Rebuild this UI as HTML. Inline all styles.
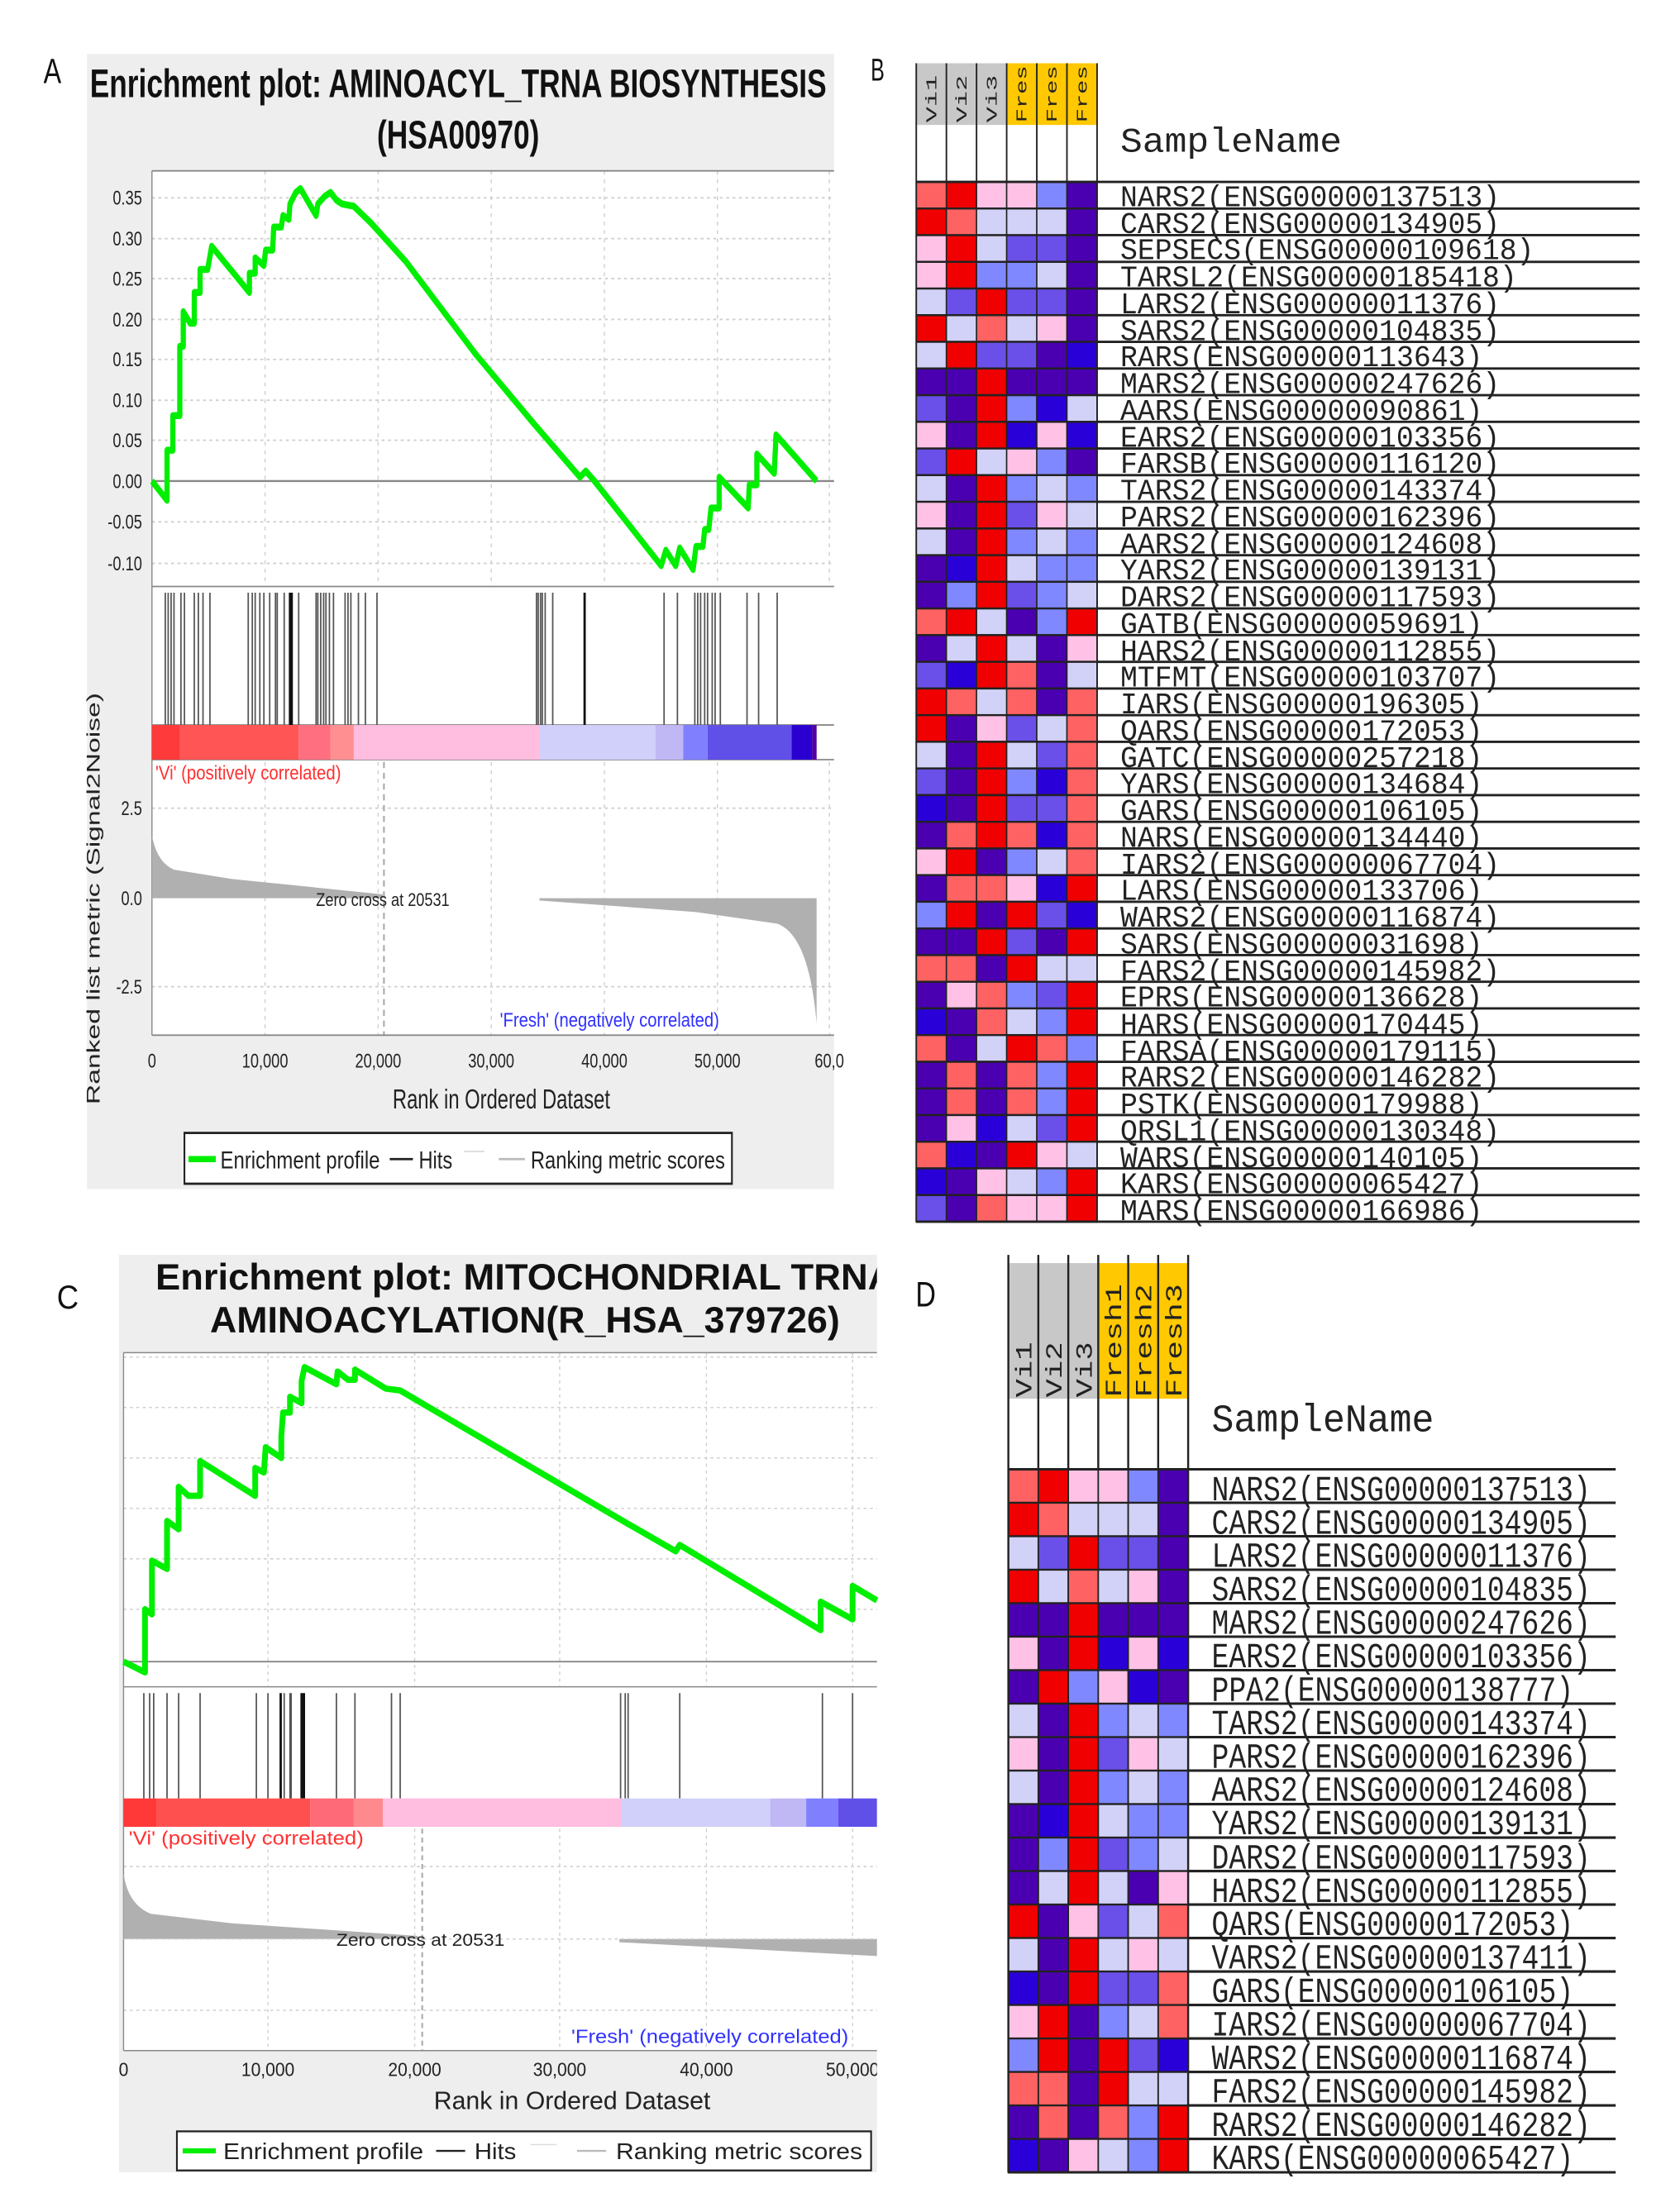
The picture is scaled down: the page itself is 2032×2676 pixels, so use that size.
<!DOCTYPE html>
<html><head><meta charset="utf-8"><style>
html,body{margin:0;padding:0;background:#fff}
svg{display:block}
.R{fill:#f00000}.r{fill:#ff6262}.k{fill:#ffc2e6}.l{fill:#d2d2f8}.m{fill:#8088ff}.v{fill:#6a50e8}.P{fill:#4a00b0}.U{fill:#2a00d8}
#hB rect{width:58.2px;height:33.72px;stroke:#222;stroke-width:2.5}
#hD rect{width:59.7px;height:53.1px;stroke:#222;stroke-width:3}
.mono{font-family:"Liberation Mono",monospace;fill:#222}
.sans{font-family:"Liberation Sans",Arial,sans-serif}
</style></head><body>
<svg width="2032" height="2676" viewBox="0 0 2032 2676" xmlns="http://www.w3.org/2000/svg">
<rect width="2032" height="2676" fill="#fff"/>

<!-- ============ PANEL A ============ -->
<g transform="scale(0.7015,0.9311)" class="sans">
<text x="75" y="108" font-size="46" fill="#111">A</text>
<rect x="150" y="70" width="1288" height="1475" fill="#eeeeee"/>
<text x="155" y="126" font-size="52" font-weight="bold" textLength="1270" lengthAdjust="spacingAndGlyphs" fill="#111">Enrichment plot: AMINOACYL_TRNA BIOSYNTHESIS</text>
<text x="650" y="193" font-size="52" font-weight="bold" textLength="280" lengthAdjust="spacingAndGlyphs" fill="#111">(HSA00970)</text>
<rect x="262" y="222" width="1176" height="1123" fill="#fff"/>
<g stroke="#cfcfcf" stroke-width="2" stroke-dasharray="5,6">
<line x1="457" y1="222" x2="457" y2="762"/><line x1="652" y1="222" x2="652" y2="762"/><line x1="847" y1="222" x2="847" y2="762"/><line x1="1042" y1="222" x2="1042" y2="762"/><line x1="1237" y1="222" x2="1237" y2="762"/><line x1="1430" y1="222" x2="1430" y2="762"/>
<line x1="262" y1="257" x2="1438" y2="257"/><line x1="262" y1="310" x2="1438" y2="310"/><line x1="262" y1="362" x2="1438" y2="362"/><line x1="262" y1="415" x2="1438" y2="415"/><line x1="262" y1="467" x2="1438" y2="467"/><line x1="262" y1="520" x2="1438" y2="520"/><line x1="262" y1="572" x2="1438" y2="572"/><line x1="262" y1="678" x2="1438" y2="678"/><line x1="262" y1="732" x2="1438" y2="732"/>
<line x1="457" y1="990" x2="457" y2="1345"/><line x1="652" y1="990" x2="652" y2="1345"/><line x1="847" y1="990" x2="847" y2="1345"/><line x1="1042" y1="990" x2="1042" y2="1345"/><line x1="1237" y1="990" x2="1237" y2="1345"/><line x1="1430" y1="990" x2="1430" y2="1345"/>
<line x1="262" y1="1050" x2="1438" y2="1050"/><line x1="262" y1="1282" x2="1438" y2="1282"/>
</g>
<line x1="662" y1="990" x2="662" y2="1345" stroke="#aaa" stroke-width="3" stroke-dasharray="8,6"/>
<g stroke="#888" stroke-width="2" fill="none">
<line x1="262" y1="222" x2="262" y2="1345"/><line x1="262" y1="222" x2="1438" y2="222"/>
<line x1="262" y1="762" x2="1438" y2="762"/><line x1="262" y1="942" x2="1438" y2="942"/><line x1="262" y1="987" x2="1438" y2="987"/>
<line x1="262" y1="1345" x2="1438" y2="1345"/>
</g>
<line x1="262" y1="625" x2="1438" y2="625" stroke="#888" stroke-width="2.5"/>
<g font-size="26" fill="#222" text-anchor="end">
<text x="245" y="266">0.35</text><text x="245" y="319">0.30</text><text x="245" y="371">0.25</text><text x="245" y="424">0.20</text><text x="245" y="476">0.15</text><text x="245" y="529">0.10</text><text x="245" y="581">0.05</text><text x="245" y="634">0.00</text><text x="245" y="687">-0.05</text><text x="245" y="741">-0.10</text>
<text x="245" y="1059">2.5</text><text x="245" y="1176">0.0</text><text x="245" y="1291">-2.5</text>
</g>
<g font-size="26" fill="#222" text-anchor="middle">
<text x="262" y="1387">0</text><text x="457" y="1387">10,000</text><text x="652" y="1387">20,000</text><text x="847" y="1387">30,000</text><text x="1042" y="1387">40,000</text><text x="1237" y="1387">50,000</text><text x="1430" y="1387">60,0</text>
</g>
<text x="677" y="1440" font-size="36" fill="#222" textLength="375" lengthAdjust="spacingAndGlyphs">Rank in Ordered Dataset</text>
<text transform="translate(172,1435) rotate(-90)" font-size="32" fill="#222" textLength="535" lengthAdjust="spacingAndGlyphs">Ranked list metric (Signal2Noise)</text>
<polyline fill="none" stroke="#00ee00" stroke-width="9" stroke-linejoin="round" points="262,625 288,650 288,585 298,585 298,540 310,540 310,450 316,450 316,405 328,420 335,420 335,380 345,380 345,350 358,350 365,320 430,380 430,355 440,355 440,335 455,345 458,325 470,325 472,295 485,295 488,280 498,285 500,265 510,250 518,245 545,280 548,265 560,255 570,250 580,260 590,265 610,268 640,290 700,340 820,460 920,550 1000,620 1010,612 1025,625 1140,735 1148,715 1165,735 1172,712 1195,740 1200,710 1212,710 1215,688 1222,688 1226,660 1240,660 1240,620 1290,660 1292,630 1305,630 1305,590 1335,615 1338,565 1408,625"/>
<g stroke="#555" stroke-width="2.5">
<path d="M285 770V942M290 770V942M295 770V942M300 770V942M312 770V942M318 770V942M335 770V942M342 770V942M350 770V942M362 770V942M428 770V942M435 770V942M440 770V942M448 770V942M455 770V942M465 770V942M475 770V942M478 770V942M490 770V942M515 770V942M545 770V942M548 770V942M553 770V942M558 770V942M562 770V942M568 770V942M575 770V942M595 770V942M600 770V942M605 770V942M618 770V942M630 770V942M650 770V942M925 770V942M928 770V942M932 770V942M935 770V942M940 770V942M953 770V942M1145 770V942M1168 770V942M1198 770V942M1203 770V942M1208 770V942M1215 770V942M1220 770V942M1228 770V942M1233 770V942M1242 770V942M1288 770V942M1308 770V942M1340 770V942"/>
</g>
<g stroke="#111" stroke-width="4"><path d="M500 770V942M503 770V942M1008 770V942"/></g>
<g>
<rect x="262" y="942" width="48" height="45" fill="#ff3a3a"/><rect x="310" y="942" width="205" height="45" fill="#ff5555"/><rect x="515" y="942" width="55" height="45" fill="#ff6f80"/><rect x="570" y="942" width="40" height="45" fill="#ff8f90"/><rect x="610" y="942" width="320" height="45" fill="#ffbde0"/><rect x="930" y="942" width="200" height="45" fill="#d0d0fa"/><rect x="1130" y="942" width="48" height="45" fill="#c0b8f5"/><rect x="1178" y="942" width="42" height="45" fill="#8080ff"/><rect x="1220" y="942" width="145" height="45" fill="#6050e8"/><rect x="1365" y="942" width="35" height="45" fill="#2a00d0"/><rect x="1400" y="942" width="8" height="45" fill="#5000a0"/>
</g>
<text x="268" y="1013" font-size="26" fill="#ff3030" textLength="320" lengthAdjust="spacingAndGlyphs">'Vi' (positively correlated)</text>
<path d="M262,1167 L262,1085 Q270,1120 300,1130 L400,1142 L660,1162 L660,1167 Z" fill="#b0b0b0"/>
<path d="M930,1167 L930,1170 L1200,1185 L1340,1200 Q1395,1215 1408,1330 L1408,1167 Z" fill="#b0b0b0"/>
<text x="545" y="1177" font-size="24" fill="#222" textLength="230" lengthAdjust="spacingAndGlyphs">Zero cross at 20531</text>
<text x="862" y="1334" font-size="26" fill="#3030ff" textLength="378" lengthAdjust="spacingAndGlyphs">'Fresh' (negatively correlated)</text>
<rect x="318" y="1472" width="944" height="66" fill="#fff" stroke="#222" stroke-width="3"/>
<line x1="325" y1="1506" x2="372" y2="1506" stroke="#00ee00" stroke-width="8"/>
<text x="380" y="1518" font-size="32" fill="#222" textLength="275" lengthAdjust="spacingAndGlyphs">Enrichment profile</text>
<line x1="672" y1="1506" x2="712" y2="1506" stroke="#222" stroke-width="3"/>
<text x="722" y="1518" font-size="32" fill="#222" textLength="58" lengthAdjust="spacingAndGlyphs">Hits</text>
<line x1="800" y1="1496" x2="835" y2="1496" stroke="#ddd" stroke-width="2"/>
<line x1="860" y1="1506" x2="905" y2="1506" stroke="#bbb" stroke-width="3"/>
<text x="915" y="1518" font-size="32" fill="#222" textLength="335" lengthAdjust="spacingAndGlyphs">Ranking metric scores</text>
</g>

<!-- ============ PANEL B ============ -->
<g transform="translate(1050,0) scale(0.6263,0.9566)">
<text x="5" y="102" font-size="40" class="sans" fill="#111">B</text>
<rect x="93" y="80" width="174.6" height="78" fill="#c8c8c8"/>
<rect x="267.6" y="80" width="174.6" height="78" fill="#ffc800"/>
<g class="mono" font-size="30">
<text transform="translate(132,155) rotate(-90)" textLength="60" lengthAdjust="spacingAndGlyphs">Vi1</text>
<text transform="translate(190,155) rotate(-90)" textLength="60" lengthAdjust="spacingAndGlyphs">Vi2</text>
<text transform="translate(248,155) rotate(-90)" textLength="60" lengthAdjust="spacingAndGlyphs">Vi3</text>
<text transform="translate(306,155) rotate(-90)" textLength="72" lengthAdjust="spacingAndGlyphs">Fres</text>
<text transform="translate(364,155) rotate(-90)" textLength="72" lengthAdjust="spacingAndGlyphs">Fres</text>
<text transform="translate(422,155) rotate(-90)" textLength="72" lengthAdjust="spacingAndGlyphs">Fres</text>
</g>
<text x="487" y="192" font-size="44" class="mono" fill="#333" textLength="428" lengthAdjust="spacingAndGlyphs">SampleName</text>
<g id="hB">
<g transform="translate(0,230)"><rect class="r" x="93"/><rect class="R" x="151.2"/><rect class="k" x="209.4"/><rect class="k" x="267.6"/><rect class="m" x="325.8"/><rect class="P" x="384"/></g>
<g transform="translate(0,263.7)"><rect class="R" x="93"/><rect class="r" x="151.2"/><rect class="l" x="209.4"/><rect class="l" x="267.6"/><rect class="l" x="325.8"/><rect class="P" x="384"/></g>
<g transform="translate(0,297.4)"><rect class="k" x="93"/><rect class="R" x="151.2"/><rect class="l" x="209.4"/><rect class="v" x="267.6"/><rect class="v" x="325.8"/><rect class="P" x="384"/></g>
<g transform="translate(0,331.2)"><rect class="k" x="93"/><rect class="R" x="151.2"/><rect class="m" x="209.4"/><rect class="m" x="267.6"/><rect class="l" x="325.8"/><rect class="P" x="384"/></g>
<g transform="translate(0,364.9)"><rect class="l" x="93"/><rect class="v" x="151.2"/><rect class="R" x="209.4"/><rect class="v" x="267.6"/><rect class="v" x="325.8"/><rect class="P" x="384"/></g>
<g transform="translate(0,398.6)"><rect class="R" x="93"/><rect class="l" x="151.2"/><rect class="r" x="209.4"/><rect class="l" x="267.6"/><rect class="k" x="325.8"/><rect class="P" x="384"/></g>
<g transform="translate(0,432.3)"><rect class="l" x="93"/><rect class="R" x="151.2"/><rect class="v" x="209.4"/><rect class="v" x="267.6"/><rect class="P" x="325.8"/><rect class="U" x="384"/></g>
<g transform="translate(0,466)"><rect class="P" x="93"/><rect class="P" x="151.2"/><rect class="R" x="209.4"/><rect class="P" x="267.6"/><rect class="P" x="325.8"/><rect class="P" x="384"/></g>
<g transform="translate(0,499.8)"><rect class="v" x="93"/><rect class="P" x="151.2"/><rect class="R" x="209.4"/><rect class="m" x="267.6"/><rect class="U" x="325.8"/><rect class="l" x="384"/></g>
<g transform="translate(0,533.5)"><rect class="k" x="93"/><rect class="P" x="151.2"/><rect class="R" x="209.4"/><rect class="U" x="267.6"/><rect class="k" x="325.8"/><rect class="U" x="384"/></g>
<g transform="translate(0,567.2)"><rect class="v" x="93"/><rect class="R" x="151.2"/><rect class="l" x="209.4"/><rect class="k" x="267.6"/><rect class="m" x="325.8"/><rect class="P" x="384"/></g>
<g transform="translate(0,600.9)"><rect class="l" x="93"/><rect class="P" x="151.2"/><rect class="R" x="209.4"/><rect class="m" x="267.6"/><rect class="l" x="325.8"/><rect class="m" x="384"/></g>
<g transform="translate(0,634.6)"><rect class="k" x="93"/><rect class="P" x="151.2"/><rect class="R" x="209.4"/><rect class="v" x="267.6"/><rect class="k" x="325.8"/><rect class="l" x="384"/></g>
<g transform="translate(0,668.4)"><rect class="l" x="93"/><rect class="P" x="151.2"/><rect class="R" x="209.4"/><rect class="m" x="267.6"/><rect class="l" x="325.8"/><rect class="m" x="384"/></g>
<g transform="translate(0,702.1)"><rect class="P" x="93"/><rect class="U" x="151.2"/><rect class="R" x="209.4"/><rect class="l" x="267.6"/><rect class="m" x="325.8"/><rect class="m" x="384"/></g>
<g transform="translate(0,735.8)"><rect class="P" x="93"/><rect class="m" x="151.2"/><rect class="R" x="209.4"/><rect class="v" x="267.6"/><rect class="m" x="325.8"/><rect class="l" x="384"/></g>
<g transform="translate(0,769.5)"><rect class="r" x="93"/><rect class="R" x="151.2"/><rect class="l" x="209.4"/><rect class="P" x="267.6"/><rect class="m" x="325.8"/><rect class="R" x="384"/></g>
<g transform="translate(0,803.2)"><rect class="P" x="93"/><rect class="l" x="151.2"/><rect class="R" x="209.4"/><rect class="l" x="267.6"/><rect class="P" x="325.8"/><rect class="k" x="384"/></g>
<g transform="translate(0,837)"><rect class="v" x="93"/><rect class="U" x="151.2"/><rect class="R" x="209.4"/><rect class="r" x="267.6"/><rect class="P" x="325.8"/><rect class="l" x="384"/></g>
<g transform="translate(0,870.7)"><rect class="R" x="93"/><rect class="r" x="151.2"/><rect class="l" x="209.4"/><rect class="r" x="267.6"/><rect class="P" x="325.8"/><rect class="r" x="384"/></g>
<g transform="translate(0,904.4)"><rect class="R" x="93"/><rect class="P" x="151.2"/><rect class="k" x="209.4"/><rect class="v" x="267.6"/><rect class="l" x="325.8"/><rect class="r" x="384"/></g>
<g transform="translate(0,938.1)"><rect class="l" x="93"/><rect class="P" x="151.2"/><rect class="R" x="209.4"/><rect class="l" x="267.6"/><rect class="v" x="325.8"/><rect class="r" x="384"/></g>
<g transform="translate(0,971.8)"><rect class="v" x="93"/><rect class="P" x="151.2"/><rect class="R" x="209.4"/><rect class="m" x="267.6"/><rect class="U" x="325.8"/><rect class="r" x="384"/></g>
<g transform="translate(0,1005.6)"><rect class="U" x="93"/><rect class="P" x="151.2"/><rect class="R" x="209.4"/><rect class="v" x="267.6"/><rect class="v" x="325.8"/><rect class="r" x="384"/></g>
<g transform="translate(0,1039.3)"><rect class="P" x="93"/><rect class="r" x="151.2"/><rect class="R" x="209.4"/><rect class="r" x="267.6"/><rect class="U" x="325.8"/><rect class="r" x="384"/></g>
<g transform="translate(0,1073)"><rect class="k" x="93"/><rect class="R" x="151.2"/><rect class="P" x="209.4"/><rect class="m" x="267.6"/><rect class="l" x="325.8"/><rect class="r" x="384"/></g>
<g transform="translate(0,1106.7)"><rect class="P" x="93"/><rect class="r" x="151.2"/><rect class="r" x="209.4"/><rect class="k" x="267.6"/><rect class="U" x="325.8"/><rect class="R" x="384"/></g>
<g transform="translate(0,1140.4)"><rect class="m" x="93"/><rect class="R" x="151.2"/><rect class="P" x="209.4"/><rect class="R" x="267.6"/><rect class="v" x="325.8"/><rect class="U" x="384"/></g>
<g transform="translate(0,1174.2)"><rect class="P" x="93"/><rect class="P" x="151.2"/><rect class="R" x="209.4"/><rect class="v" x="267.6"/><rect class="P" x="325.8"/><rect class="R" x="384"/></g>
<g transform="translate(0,1207.9)"><rect class="r" x="93"/><rect class="r" x="151.2"/><rect class="P" x="209.4"/><rect class="R" x="267.6"/><rect class="l" x="325.8"/><rect class="l" x="384"/></g>
<g transform="translate(0,1241.6)"><rect class="P" x="93"/><rect class="k" x="151.2"/><rect class="r" x="209.4"/><rect class="m" x="267.6"/><rect class="v" x="325.8"/><rect class="R" x="384"/></g>
<g transform="translate(0,1275.3)"><rect class="U" x="93"/><rect class="P" x="151.2"/><rect class="r" x="209.4"/><rect class="l" x="267.6"/><rect class="m" x="325.8"/><rect class="R" x="384"/></g>
<g transform="translate(0,1309)"><rect class="r" x="93"/><rect class="P" x="151.2"/><rect class="l" x="209.4"/><rect class="R" x="267.6"/><rect class="r" x="325.8"/><rect class="m" x="384"/></g>
<g transform="translate(0,1342.8)"><rect class="P" x="93"/><rect class="r" x="151.2"/><rect class="P" x="209.4"/><rect class="r" x="267.6"/><rect class="m" x="325.8"/><rect class="R" x="384"/></g>
<g transform="translate(0,1376.5)"><rect class="P" x="93"/><rect class="r" x="151.2"/><rect class="P" x="209.4"/><rect class="r" x="267.6"/><rect class="m" x="325.8"/><rect class="R" x="384"/></g>
<g transform="translate(0,1410.2)"><rect class="P" x="93"/><rect class="k" x="151.2"/><rect class="U" x="209.4"/><rect class="l" x="267.6"/><rect class="v" x="325.8"/><rect class="R" x="384"/></g>
<g transform="translate(0,1443.9)"><rect class="r" x="93"/><rect class="U" x="151.2"/><rect class="P" x="209.4"/><rect class="R" x="267.6"/><rect class="k" x="325.8"/><rect class="l" x="384"/></g>
<g transform="translate(0,1477.6)"><rect class="U" x="93"/><rect class="P" x="151.2"/><rect class="k" x="209.4"/><rect class="l" x="267.6"/><rect class="m" x="325.8"/><rect class="R" x="384"/></g>
<g transform="translate(0,1511.4)"><rect class="v" x="93"/><rect class="P" x="151.2"/><rect class="r" x="209.4"/><rect class="k" x="267.6"/><rect class="k" x="325.8"/><rect class="R" x="384"/></g>
</g>
<g stroke="#222" stroke-width="3">
<path d="M93 80V1545M151.2 80V230M209.4 80V230M267.6 80V230M325.8 80V230M384 80V230M442.2 80V1545"/>
<path d="M93 230H1490M442 263.7H1490M442 297.4H1490M442 331.2H1490M442 364.9H1490M442 398.6H1490M442 432.3H1490M442 466H1490M442 499.8H1490M442 533.5H1490M442 567.2H1490M442 600.9H1490M442 634.6H1490M442 668.4H1490M442 702.1H1490M442 735.8H1490M442 769.5H1490M442 803.2H1490M442 837H1490M442 870.7H1490M442 904.4H1490M442 938.1H1490M442 971.8H1490M442 1005.6H1490M442 1039.3H1490M442 1073H1490M442 1106.7H1490M442 1140.4H1490M442 1174.2H1490M442 1207.9H1490M442 1241.6H1490M442 1275.3H1490M442 1309H1490M442 1342.8H1490M442 1376.5H1490M442 1410.2H1490M442 1443.9H1490M442 1477.6H1490M442 1511.4H1490M93 1545H1490"/>
</g>
<g class="mono" font-size="38" lengthAdjust="spacingAndGlyphs">
<text x="487" y="261" textLength="733" lengthAdjust="spacingAndGlyphs">NARS2(ENSG00000137513)</text>
<text x="487" y="295" textLength="733" lengthAdjust="spacingAndGlyphs">CARS2(ENSG00000134905)</text>
<text x="487" y="328" textLength="799" lengthAdjust="spacingAndGlyphs">SEPSECS(ENSG00000109618)</text>
<text x="487" y="362" textLength="766" lengthAdjust="spacingAndGlyphs">TARSL2(ENSG00000185418)</text>
<text x="487" y="396" textLength="733" lengthAdjust="spacingAndGlyphs">LARS2(ENSG00000011376)</text>
<text x="487" y="430" textLength="733" lengthAdjust="spacingAndGlyphs">SARS2(ENSG00000104835)</text>
<text x="487" y="463" textLength="700" lengthAdjust="spacingAndGlyphs">RARS(ENSG00000113643)</text>
<text x="487" y="497" textLength="733" lengthAdjust="spacingAndGlyphs">MARS2(ENSG00000247626)</text>
<text x="487" y="531" textLength="700" lengthAdjust="spacingAndGlyphs">AARS(ENSG00000090861)</text>
<text x="487" y="565" textLength="733" lengthAdjust="spacingAndGlyphs">EARS2(ENSG00000103356)</text>
<text x="487" y="598" textLength="733" lengthAdjust="spacingAndGlyphs">FARSB(ENSG00000116120)</text>
<text x="487" y="632" textLength="733" lengthAdjust="spacingAndGlyphs">TARS2(ENSG00000143374)</text>
<text x="487" y="666" textLength="733" lengthAdjust="spacingAndGlyphs">PARS2(ENSG00000162396)</text>
<text x="487" y="700" textLength="733" lengthAdjust="spacingAndGlyphs">AARS2(ENSG00000124608)</text>
<text x="487" y="733" textLength="733" lengthAdjust="spacingAndGlyphs">YARS2(ENSG00000139131)</text>
<text x="487" y="767" textLength="733" lengthAdjust="spacingAndGlyphs">DARS2(ENSG00000117593)</text>
<text x="487" y="801" textLength="700" lengthAdjust="spacingAndGlyphs">GATB(ENSG00000059691)</text>
<text x="487" y="835" textLength="733" lengthAdjust="spacingAndGlyphs">HARS2(ENSG00000112855)</text>
<text x="487" y="868" textLength="733" lengthAdjust="spacingAndGlyphs">MTFMT(ENSG00000103707)</text>
<text x="487" y="902" textLength="700" lengthAdjust="spacingAndGlyphs">IARS(ENSG00000196305)</text>
<text x="487" y="936" textLength="700" lengthAdjust="spacingAndGlyphs">QARS(ENSG00000172053)</text>
<text x="487" y="970" textLength="700" lengthAdjust="spacingAndGlyphs">GATC(ENSG00000257218)</text>
<text x="487" y="1003" textLength="700" lengthAdjust="spacingAndGlyphs">YARS(ENSG00000134684)</text>
<text x="487" y="1037" textLength="700" lengthAdjust="spacingAndGlyphs">GARS(ENSG00000106105)</text>
<text x="487" y="1071" textLength="700" lengthAdjust="spacingAndGlyphs">NARS(ENSG00000134440)</text>
<text x="487" y="1105" textLength="733" lengthAdjust="spacingAndGlyphs">IARS2(ENSG00000067704)</text>
<text x="487" y="1138" textLength="700" lengthAdjust="spacingAndGlyphs">LARS(ENSG00000133706)</text>
<text x="487" y="1172" textLength="733" lengthAdjust="spacingAndGlyphs">WARS2(ENSG00000116874)</text>
<text x="487" y="1206" textLength="700" lengthAdjust="spacingAndGlyphs">SARS(ENSG00000031698)</text>
<text x="487" y="1240" textLength="733" lengthAdjust="spacingAndGlyphs">FARS2(ENSG00000145982)</text>
<text x="487" y="1273" textLength="700" lengthAdjust="spacingAndGlyphs">EPRS(ENSG00000136628)</text>
<text x="487" y="1307" textLength="700" lengthAdjust="spacingAndGlyphs">HARS(ENSG00000170445)</text>
<text x="487" y="1341" textLength="733" lengthAdjust="spacingAndGlyphs">FARSA(ENSG00000179115)</text>
<text x="487" y="1374" textLength="733" lengthAdjust="spacingAndGlyphs">RARS2(ENSG00000146282)</text>
<text x="487" y="1408" textLength="700" lengthAdjust="spacingAndGlyphs">PSTK(ENSG00000179988)</text>
<text x="487" y="1442" textLength="733" lengthAdjust="spacingAndGlyphs">QRSL1(ENSG00000130348)</text>
<text x="487" y="1476" textLength="700" lengthAdjust="spacingAndGlyphs">WARS(ENSG00000140105)</text>
<text x="487" y="1509" textLength="700" lengthAdjust="spacingAndGlyphs">KARS(ENSG00000065427)</text>
<text x="487" y="1543" textLength="700" lengthAdjust="spacingAndGlyphs">MARS(ENSG00000166986)</text>
</g>
</g>

<!-- ============ PANEL C ============ -->
<g transform="translate(0,1480) scale(0.7015,0.7628)" class="sans">
<text x="98" y="135" font-size="52" fill="#111">C</text>
<rect x="205" y="50" width="1307" height="1455" fill="#eeeeee"/>
<svg x="205" y="50" width="1307" height="160" overflow="hidden">
<text x="63" y="55" font-size="58" font-weight="bold" textLength="1275" lengthAdjust="spacingAndGlyphs" fill="#111">Enrichment plot: MITOCHONDRIAL TRNA</text>
</svg>
<text x="362" y="173" font-size="58" font-weight="bold" textLength="1086" lengthAdjust="spacingAndGlyphs" fill="#111">AMINOACYLATION(R_HSA_379726)</text>
<rect x="213" y="205" width="1299" height="1107" fill="#fff"/>
<g stroke="#cfcfcf" stroke-width="2" stroke-dasharray="5,6">
<line x1="462" y1="205" x2="462" y2="735"/><line x1="715" y1="205" x2="715" y2="735"/><line x1="965" y1="205" x2="965" y2="735"/><line x1="1218" y1="205" x2="1218" y2="735"/><line x1="1470" y1="205" x2="1470" y2="735"/>
<line x1="213" y1="212" x2="1512" y2="212"/><line x1="213" y1="292" x2="1512" y2="292"/><line x1="213" y1="372" x2="1512" y2="372"/><line x1="213" y1="452" x2="1512" y2="452"/><line x1="213" y1="532" x2="1512" y2="532"/><line x1="213" y1="612" x2="1512" y2="612"/>
<line x1="462" y1="960" x2="462" y2="1312"/><line x1="715" y1="960" x2="715" y2="1312"/><line x1="965" y1="960" x2="965" y2="1312"/><line x1="1218" y1="960" x2="1218" y2="1312"/><line x1="1470" y1="960" x2="1470" y2="1312"/>
<line x1="213" y1="1020" x2="1512" y2="1020"/><line x1="213" y1="1248" x2="1512" y2="1248"/>
</g>
<line x1="728" y1="960" x2="728" y2="1312" stroke="#aaa" stroke-width="3" stroke-dasharray="8,6"/>
<g stroke="#888" stroke-width="2">
<line x1="213" y1="205" x2="213" y2="1312"/><line x1="213" y1="205" x2="1512" y2="205"/><line x1="213" y1="735" x2="1512" y2="735"/><line x1="213" y1="1312" x2="1512" y2="1312"/>
</g>
<line x1="213" y1="695" x2="1512" y2="695" stroke="#888" stroke-width="2.5"/>
<polyline fill="none" stroke="#00ee00" stroke-width="10" stroke-linejoin="round" points="213,695 250,712 250,612 262,620 262,535 288,548 288,472 308,485 308,418 325,432 345,432 345,377 440,432 440,388 455,395 458,355 485,372 485,338 488,300 500,300 500,275 520,285 520,250 525,228 580,255 582,235 600,248 612,248 612,232 665,262 690,265 1080,475 1165,520 1172,510 1415,645 1415,600 1470,628 1470,575 1512,598"/>
<g stroke="#555" stroke-width="2.5">
<path d="M248 745V912M258 745V912M265 745V912M288 745V912M308 745V912M345 745V912M442 745V912M462 745V912M490 745V912M500 745V912M502 745V912M580 745V912M612 745V912M675 745V912M690 745V912M1070 745V912M1078 745V912M1083 745V912M1172 745V912M1418 745V912M1470 745V912"/>
</g>
<g stroke="#111" stroke-width="4"><path d="M484 745V912M520 745V912M524 745V912"/></g>
<rect x="213" y="912" width="57" height="45" fill="#ff3838"/><rect x="270" y="912" width="265" height="45" fill="#ff5050"/><rect x="535" y="912" width="75" height="45" fill="#ff6a78"/><rect x="610" y="912" width="50" height="45" fill="#ff8a8e"/><rect x="660" y="912" width="412" height="45" fill="#ffbde0"/><rect x="1072" y="912" width="256" height="45" fill="#d0d0fa"/><rect x="1328" y="912" width="62" height="45" fill="#c0b8f5"/><rect x="1390" y="912" width="55" height="45" fill="#8080ff"/><rect x="1445" y="912" width="67" height="45" fill="#6050e8"/>
<text x="222" y="985" font-size="30" fill="#ff3030" textLength="405" lengthAdjust="spacingAndGlyphs">'Vi' (positively correlated)</text>
<path d="M213,1135 L213,1030 Q220,1080 260,1095 L400,1110 L720,1130 L720,1135 Z" fill="#b0b0b0"/>
<path d="M1068,1135 L1068,1140 L1512,1162 L1512,1135 Z" fill="#b0b0b0"/>
<line x1="213" y1="1135" x2="1512" y2="1135" stroke="#cfcfcf" stroke-width="2" stroke-dasharray="5,6"/>
<text x="580" y="1146" font-size="28" fill="#222" textLength="290" lengthAdjust="spacingAndGlyphs">Zero cross at 20531</text>
<text x="985" y="1300" font-size="30" fill="#3030ff" textLength="478" lengthAdjust="spacingAndGlyphs">'Fresh' (negatively correlated)</text>
<g font-size="30" fill="#222" text-anchor="middle">
<text x="213" y="1352">0</text><text x="462" y="1352">10,000</text><text x="715" y="1352">20,000</text><text x="965" y="1352">30,000</text><text x="1218" y="1352">40,000</text>
</g>
<svg x="1400" y="1320" width="112" height="50" overflow="hidden"><text x="70" y="32" font-size="30" fill="#222" text-anchor="middle">50,000</text></svg>
<text x="748" y="1405" font-size="40" fill="#222" textLength="477" lengthAdjust="spacingAndGlyphs">Rank in Ordered Dataset</text>
<rect x="305" y="1440" width="1197" height="62" fill="#fff" stroke="#222" stroke-width="3"/>
<line x1="315" y1="1471" x2="372" y2="1471" stroke="#00ee00" stroke-width="8"/>
<text x="385" y="1484" font-size="36" fill="#222" textLength="345" lengthAdjust="spacingAndGlyphs">Enrichment profile</text>
<line x1="752" y1="1471" x2="802" y2="1471" stroke="#222" stroke-width="3"/>
<text x="818" y="1484" font-size="36" fill="#222" textLength="72" lengthAdjust="spacingAndGlyphs">Hits</text>
<line x1="915" y1="1461" x2="960" y2="1461" stroke="#ddd" stroke-width="2"/>
<line x1="995" y1="1471" x2="1045" y2="1471" stroke="#bbb" stroke-width="3"/>
<text x="1062" y="1484" font-size="36" fill="#222" textLength="425" lengthAdjust="spacingAndGlyphs">Ranking metric scores</text>
</g>

<!-- ============ PANEL D ============ -->
<g transform="translate(1080,1480) scale(0.6071,0.7628)">
<text x="45" y="132" font-size="56" class="sans" fill="#111">D</text>
<rect x="230" y="63" width="179.1" height="215" fill="#c8c8c8"/>
<rect x="409.1" y="63" width="179.1" height="215" fill="#ffc800"/>
<g class="mono" font-size="46">
<text transform="translate(276,276) rotate(-90)" textLength="88" lengthAdjust="spacingAndGlyphs">Vi1</text>
<text transform="translate(336,276) rotate(-90)" textLength="88" lengthAdjust="spacingAndGlyphs">Vi2</text>
<text transform="translate(396,276) rotate(-90)" textLength="88" lengthAdjust="spacingAndGlyphs">Vi3</text>
<text transform="translate(455,276) rotate(-90)" textLength="180" lengthAdjust="spacingAndGlyphs">Fresh1</text>
<text transform="translate(515,276) rotate(-90)" textLength="180" lengthAdjust="spacingAndGlyphs">Fresh2</text>
<text transform="translate(575,276) rotate(-90)" textLength="180" lengthAdjust="spacingAndGlyphs">Fresh3</text>
</g>
<text x="635" y="330" font-size="62" class="mono" fill="#333" textLength="443" lengthAdjust="spacingAndGlyphs">SampleName</text>
<g id="hD">
<g transform="translate(0,390)"><rect class="r" x="230"/><rect class="R" x="289.7"/><rect class="k" x="349.4"/><rect class="k" x="409.1"/><rect class="m" x="468.8"/><rect class="P" x="528.5"/></g>
<g transform="translate(0,443.1)"><rect class="R" x="230"/><rect class="r" x="289.7"/><rect class="l" x="349.4"/><rect class="l" x="409.1"/><rect class="l" x="468.8"/><rect class="P" x="528.5"/></g>
<g transform="translate(0,496.2)"><rect class="l" x="230"/><rect class="v" x="289.7"/><rect class="R" x="349.4"/><rect class="v" x="409.1"/><rect class="v" x="468.8"/><rect class="P" x="528.5"/></g>
<g transform="translate(0,549.3)"><rect class="R" x="230"/><rect class="l" x="289.7"/><rect class="r" x="349.4"/><rect class="l" x="409.1"/><rect class="k" x="468.8"/><rect class="P" x="528.5"/></g>
<g transform="translate(0,602.4)"><rect class="P" x="230"/><rect class="P" x="289.7"/><rect class="R" x="349.4"/><rect class="P" x="409.1"/><rect class="P" x="468.8"/><rect class="P" x="528.5"/></g>
<g transform="translate(0,655.5)"><rect class="k" x="230"/><rect class="P" x="289.7"/><rect class="R" x="349.4"/><rect class="U" x="409.1"/><rect class="k" x="468.8"/><rect class="U" x="528.5"/></g>
<g transform="translate(0,708.6)"><rect class="P" x="230"/><rect class="R" x="289.7"/><rect class="m" x="349.4"/><rect class="k" x="409.1"/><rect class="U" x="468.8"/><rect class="P" x="528.5"/></g>
<g transform="translate(0,761.7)"><rect class="l" x="230"/><rect class="P" x="289.7"/><rect class="R" x="349.4"/><rect class="m" x="409.1"/><rect class="l" x="468.8"/><rect class="m" x="528.5"/></g>
<g transform="translate(0,814.8)"><rect class="k" x="230"/><rect class="P" x="289.7"/><rect class="R" x="349.4"/><rect class="v" x="409.1"/><rect class="k" x="468.8"/><rect class="l" x="528.5"/></g>
<g transform="translate(0,867.9)"><rect class="l" x="230"/><rect class="P" x="289.7"/><rect class="R" x="349.4"/><rect class="m" x="409.1"/><rect class="l" x="468.8"/><rect class="m" x="528.5"/></g>
<g transform="translate(0,921)"><rect class="P" x="230"/><rect class="U" x="289.7"/><rect class="R" x="349.4"/><rect class="l" x="409.1"/><rect class="m" x="468.8"/><rect class="m" x="528.5"/></g>
<g transform="translate(0,974.1)"><rect class="P" x="230"/><rect class="m" x="289.7"/><rect class="R" x="349.4"/><rect class="v" x="409.1"/><rect class="m" x="468.8"/><rect class="l" x="528.5"/></g>
<g transform="translate(0,1027.2)"><rect class="P" x="230"/><rect class="l" x="289.7"/><rect class="R" x="349.4"/><rect class="l" x="409.1"/><rect class="P" x="468.8"/><rect class="k" x="528.5"/></g>
<g transform="translate(0,1080.3)"><rect class="R" x="230"/><rect class="P" x="289.7"/><rect class="k" x="349.4"/><rect class="v" x="409.1"/><rect class="l" x="468.8"/><rect class="r" x="528.5"/></g>
<g transform="translate(0,1133.4)"><rect class="l" x="230"/><rect class="P" x="289.7"/><rect class="R" x="349.4"/><rect class="l" x="409.1"/><rect class="k" x="468.8"/><rect class="l" x="528.5"/></g>
<g transform="translate(0,1186.5)"><rect class="U" x="230"/><rect class="P" x="289.7"/><rect class="R" x="349.4"/><rect class="v" x="409.1"/><rect class="v" x="468.8"/><rect class="r" x="528.5"/></g>
<g transform="translate(0,1239.6)"><rect class="k" x="230"/><rect class="R" x="289.7"/><rect class="P" x="349.4"/><rect class="m" x="409.1"/><rect class="l" x="468.8"/><rect class="r" x="528.5"/></g>
<g transform="translate(0,1292.7)"><rect class="m" x="230"/><rect class="R" x="289.7"/><rect class="P" x="349.4"/><rect class="R" x="409.1"/><rect class="v" x="468.8"/><rect class="U" x="528.5"/></g>
<g transform="translate(0,1345.8)"><rect class="r" x="230"/><rect class="r" x="289.7"/><rect class="P" x="349.4"/><rect class="R" x="409.1"/><rect class="l" x="468.8"/><rect class="l" x="528.5"/></g>
<g transform="translate(0,1398.9)"><rect class="P" x="230"/><rect class="r" x="289.7"/><rect class="P" x="349.4"/><rect class="r" x="409.1"/><rect class="m" x="468.8"/><rect class="R" x="528.5"/></g>
<g transform="translate(0,1452)"><rect class="U" x="230"/><rect class="P" x="289.7"/><rect class="k" x="349.4"/><rect class="l" x="409.1"/><rect class="m" x="468.8"/><rect class="R" x="528.5"/></g>
</g>
<g stroke="#222" stroke-width="4">
<path d="M230 50V1505M289.7 50V390M349.4 50V390M409.1 50V390M468.8 50V390M528.5 50V390M588.2 50V1505"/>
<path d="M230 390H1440M588 443.1H1440M588 496.2H1440M588 549.3H1440M588 602.4H1440M588 655.5H1440M588 708.6H1440M588 761.7H1440M588 814.8H1440M588 867.9H1440M588 921H1440M588 974.1H1440M588 1027.2H1440M588 1080.3H1440M588 1133.4H1440M588 1186.5H1440M588 1239.6H1440M588 1292.7H1440M588 1345.8H1440M588 1398.9H1440M588 1452H1440M230 1505H1440"/>
</g>
<g class="mono" font-size="56">
<text x="635" y="439" textLength="755" lengthAdjust="spacingAndGlyphs">NARS2(ENSG00000137513)</text>
<text x="635" y="492" textLength="755" lengthAdjust="spacingAndGlyphs">CARS2(ENSG00000134905)</text>
<text x="635" y="545" textLength="755" lengthAdjust="spacingAndGlyphs">LARS2(ENSG00000011376)</text>
<text x="635" y="598" textLength="755" lengthAdjust="spacingAndGlyphs">SARS2(ENSG00000104835)</text>
<text x="635" y="651" textLength="755" lengthAdjust="spacingAndGlyphs">MARS2(ENSG00000247626)</text>
<text x="635" y="704" textLength="755" lengthAdjust="spacingAndGlyphs">EARS2(ENSG00000103356)</text>
<text x="635" y="757" textLength="721" lengthAdjust="spacingAndGlyphs">PPA2(ENSG00000138777)</text>
<text x="635" y="810" textLength="755" lengthAdjust="spacingAndGlyphs">TARS2(ENSG00000143374)</text>
<text x="635" y="863" textLength="755" lengthAdjust="spacingAndGlyphs">PARS2(ENSG00000162396)</text>
<text x="635" y="916" textLength="755" lengthAdjust="spacingAndGlyphs">AARS2(ENSG00000124608)</text>
<text x="635" y="969" textLength="755" lengthAdjust="spacingAndGlyphs">YARS2(ENSG00000139131)</text>
<text x="635" y="1023" textLength="755" lengthAdjust="spacingAndGlyphs">DARS2(ENSG00000117593)</text>
<text x="635" y="1076" textLength="755" lengthAdjust="spacingAndGlyphs">HARS2(ENSG00000112855)</text>
<text x="635" y="1129" textLength="721" lengthAdjust="spacingAndGlyphs">QARS(ENSG00000172053)</text>
<text x="635" y="1182" textLength="755" lengthAdjust="spacingAndGlyphs">VARS2(ENSG00000137411)</text>
<text x="635" y="1235" textLength="721" lengthAdjust="spacingAndGlyphs">GARS(ENSG00000106105)</text>
<text x="635" y="1288" textLength="755" lengthAdjust="spacingAndGlyphs">IARS2(ENSG00000067704)</text>
<text x="635" y="1341" textLength="755" lengthAdjust="spacingAndGlyphs">WARS2(ENSG00000116874)</text>
<text x="635" y="1394" textLength="755" lengthAdjust="spacingAndGlyphs">FARS2(ENSG00000145982)</text>
<text x="635" y="1447" textLength="755" lengthAdjust="spacingAndGlyphs">RARS2(ENSG00000146282)</text>
<text x="635" y="1500" textLength="721" lengthAdjust="spacingAndGlyphs">KARS(ENSG00000065427)</text>
</g>
</g>
</svg>
</body></html>
